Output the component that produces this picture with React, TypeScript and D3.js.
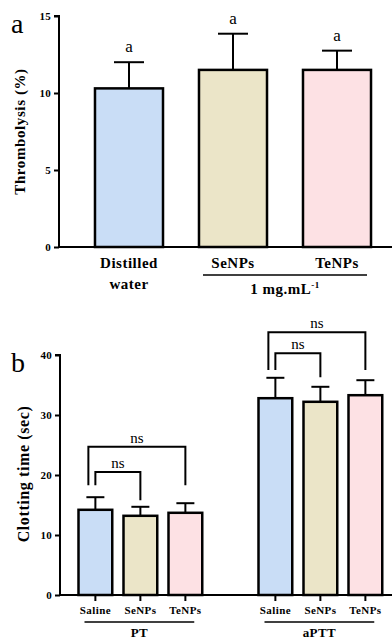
import { useEffect, useRef } from "react";
import * as d3 from "d3";

// panel a: thrombolysis
const thrombCategories = ["Distilled water", "SeNPs", "TeNPs"];
const thrombMeans = [10.3, 11.5, 11.5];
const thrombErrors = [1.7, 2.35, 1.25];
const thrombLetters = ["a", "a", "a"];
const thrombTicks = [0, 5, 10, 15];

// panel b: clotting time
const clotGroups = ["PT", "aPTT"];
const clotTreatments = ["Saline", "SeNPs", "TeNPs"];
const ptMeans = [14.2, 13.2, 13.7];
const ptErrors = [2.1, 1.5, 1.6];
const apttMeans = [32.8, 32.2, 33.3];
const apttErrors = [3.4, 2.5, 2.5];
const clotTicks = [0, 10, 20, 30, 40];

// significance brackets (value units), per group: [from, to, top, leftEnd, rightEnd]
const ptBrackets: [number, number, number, number, number][] = [
  [0, 2, 24.7, 18.3, 18.3],
  [0, 1, 20.5, 18.3, 15.8],
];
const apttBrackets: [number, number, number, number, number][] = [
  [0, 2, 43.8, 37.5, 37.5],
  [0, 1, 40.3, 37.5, 36.3],
];

const colors = ["#c9ddf6", "#ebe5c8", "#fde1e4"];
const FONT = "'Liberation Serif', 'Times New Roman', serif";

const App = () => {
  const svgRef = useRef<SVGSVGElement | null>(null);
  const width = 392;
  const height = 642;

  useEffect(() => {
    document.body.style.margin = "0";
    if (!svgRef.current) return;
    const svg = d3.select(svgRef.current);
    svg.selectAll("*").remove();
    svg.attr("font-family", FONT);

    // ---------- panel a ----------
    const ax0 = 59;
    const ya = d3.scaleLinear().domain([0, 15]).range([247, 16]);
    const xa = d3
      .scaleBand<string>()
      .domain(thrombCategories)
      .range([ax0, 407])
      .paddingInner(0.346)
      .paddingOuter(0.346);

    const ga = svg.append("g");
    ga.append("text")
      .attr("x", 11)
      .attr("y", 33)
      .attr("font-size", 28)
      .text("a");

    const yAxisA = ga
      .append("g")
      .attr("transform", `translate(${ax0},0)`)
      .call(d3.axisLeft(ya).tickValues(thrombTicks).tickSize(5).tickPadding(3));
    yAxisA.select(".domain").attr("stroke-width", 2).attr("d", `M-5,${ya(15)}H0V${ya(0)}`);
    yAxisA.selectAll(".tick line").attr("stroke-width", 2);
    yAxisA
      .selectAll(".tick text")
      .attr("font-family", FONT)
      .attr("font-weight", "bold")
      .attr("font-size", 11)
      .attr("letter-spacing", 0.3);

    ga.append("line")
      .attr("x1", ax0 - 1)
      .attr("x2", width)
      .attr("y1", ya(0))
      .attr("y2", ya(0))
      .attr("stroke", "#000")
      .attr("stroke-width", 2);

    ga.append("text")
      .attr("transform", `translate(25,${(ya(0) + ya(15)) / 2}) rotate(-90)`)
      .attr("text-anchor", "middle")
      .attr("font-weight", "bold")
      .attr("font-size", 15)
      .attr("letter-spacing", 0.6)
      .text("Thrombolysis (%)");

    thrombCategories.forEach((c, i) => {
      const x0 = xa(c)!;
      const bw = xa.bandwidth();
      const cx = x0 + bw / 2;
      const top = ya(thrombMeans[i]);
      const errTop = ya(thrombMeans[i] + thrombErrors[i]);
      ga.append("line")
        .attr("x1", cx).attr("x2", cx)
        .attr("y1", top).attr("y2", errTop)
        .attr("stroke", "#000").attr("stroke-width", 2);
      ga.append("line")
        .attr("x1", cx - 15).attr("x2", cx + 15)
        .attr("y1", errTop).attr("y2", errTop)
        .attr("stroke", "#000").attr("stroke-width", 2);
      ga.append("rect")
        .attr("x", x0)
        .attr("y", top)
        .attr("width", bw)
        .attr("height", ya(0) - top)
        .attr("fill", colors[i])
        .attr("stroke", "#000")
        .attr("stroke-width", 2.5);
      ga.append("text")
        .attr("x", cx)
        .attr("y", errTop - 10)
        .attr("text-anchor", "middle")
        .attr("font-size", 17)
        .text(thrombLetters[i]);
    });

    // category labels
    const labelA = (x: number, y: number, s: string) =>
      ga.append("text")
        .attr("x", x).attr("y", y)
        .attr("text-anchor", "middle")
        .attr("font-weight", "bold").attr("font-size", 15)
        .attr("letter-spacing", 0.5)
        .text(s);
    const c0 = xa(thrombCategories[0])! + xa.bandwidth() / 2;
    labelA(c0, 268, "Distilled");
    labelA(c0, 289, "water");
    thrombCategories.slice(1).forEach((c) => {
      labelA(xa(c)! + xa.bandwidth() / 2, 268, c);
    });
    const l1 = xa(thrombCategories[1])!;
    const l2 = xa(thrombCategories[2])! + xa.bandwidth();
    ga.append("line")
      .attr("x1", l1 + 4).attr("x2", l2 - 4)
      .attr("y1", 275).attr("y2", 275)
      .attr("stroke", "#000").attr("stroke-width", 1.5);
    const conc = ga
      .append("text")
      .attr("x", (l1 + l2) / 2)
      .attr("y", 294)
      .attr("text-anchor", "middle")
      .attr("font-weight", "bold")
      .attr("font-size", 15)
      .attr("letter-spacing", 0.5);
    conc.append("tspan").text("1 mg.mL");
    conc.append("tspan").attr("dy", -6).attr("font-size", 9).text("-1");

    // ---------- panel b ----------
    const bx0 = 60;
    const yb = d3.scaleLinear().domain([0, 40]).range([595, 355]);
    const slots = [
      ...clotTreatments.map((t) => `${clotGroups[0]}-${t}`),
      "gap",
      ...clotTreatments.map((t) => `${clotGroups[1]}-${t}`),
    ];
    const xb = d3
      .scaleBand<string>()
      .domain(slots)
      .range([78.5, 382.25])
      .paddingInner(0.25)
      .paddingOuter(0);
    const bwB = xb.bandwidth();
    const cxB = (g: string, t: string) => xb(`${g}-${t}`)! + bwB / 2;

    const gb = svg.append("g");
    gb.append("text")
      .attr("x", 11)
      .attr("y", 372)
      .attr("font-size", 28)
      .text("b");

    const yAxisB = gb
      .append("g")
      .attr("transform", `translate(${bx0},0)`)
      .call(d3.axisLeft(yb).tickValues(clotTicks).tickSize(5).tickPadding(3));
    yAxisB.select(".domain").attr("stroke-width", 2).attr("d", `M-5,${yb(40)}H0V${yb(0)}`);
    yAxisB.selectAll(".tick line").attr("stroke-width", 2);
    yAxisB
      .selectAll(".tick text")
      .attr("font-family", FONT)
      .attr("font-weight", "bold")
      .attr("font-size", 11)
      .attr("letter-spacing", 0.3);

    gb.append("line")
      .attr("x1", bx0 - 1).attr("x2", width)
      .attr("y1", yb(0)).attr("y2", yb(0))
      .attr("stroke", "#000").attr("stroke-width", 2);

    gb.append("text")
      .attr("transform", `translate(29,${(yb(0) + yb(40)) / 2 - 1}) rotate(-90)`)
      .attr("text-anchor", "middle")
      .attr("font-weight", "bold")
      .attr("font-size", 16)
      .attr("letter-spacing", 0.6)
      .text("Clotting time (sec)");

    const groupData = [
      { g: clotGroups[0], means: ptMeans, errs: ptErrors, brackets: ptBrackets },
      { g: clotGroups[1], means: apttMeans, errs: apttErrors, brackets: apttBrackets },
    ];

    groupData.forEach(({ g, means, errs, brackets }) => {
      clotTreatments.forEach((t, i) => {
        const x0 = xb(`${g}-${t}`)!;
        const cx = x0 + bwB / 2;
        const top = yb(means[i]);
        const errTop = yb(means[i] + errs[i]);
        gb.append("line")
          .attr("x1", cx).attr("x2", cx)
          .attr("y1", top).attr("y2", errTop)
          .attr("stroke", "#000").attr("stroke-width", 2);
        gb.append("line")
          .attr("x1", cx - 9).attr("x2", cx + 9)
          .attr("y1", errTop).attr("y2", errTop)
          .attr("stroke", "#000").attr("stroke-width", 2);
        gb.append("rect")
          .attr("x", x0).attr("y", top)
          .attr("width", bwB).attr("height", yb(0) - top)
          .attr("fill", colors[i])
          .attr("stroke", "#000").attr("stroke-width", 2.5);
        // x tick
        gb.append("line")
          .attr("x1", cx).attr("x2", cx)
          .attr("y1", yb(0)).attr("y2", yb(0) + 6)
          .attr("stroke", "#000").attr("stroke-width", 2);
        gb.append("text")
          .attr("x", cx).attr("y", 614)
          .attr("text-anchor", "middle")
          .attr("font-weight", "bold").attr("font-size", 11)
          .attr("letter-spacing", 0.4)
          .text(t);
      });

      // group underline + label
      const gl = xb(`${g}-${clotTreatments[0]}`)! + 6;
      const gr = xb(`${g}-${clotTreatments[2]}`)! + bwB - 8;
      gb.append("line")
        .attr("x1", gl).attr("x2", gr)
        .attr("y1", 622).attr("y2", 622)
        .attr("stroke", "#000").attr("stroke-width", 1.5);
      gb.append("text")
        .attr("x", (gl + gr) / 2).attr("y", 637)
        .attr("text-anchor", "middle")
        .attr("font-weight", "bold").attr("font-size", 13)
        .attr("letter-spacing", 0.4)
        .text(g);

      // significance brackets
      brackets.forEach(([from, to, topV, leftV, rightV]) => {
        const xl = cxB(g, clotTreatments[from]) - (to - from > 1 ? 7 : 0);
        const xr = cxB(g, clotTreatments[to]);
        const path = d3.path();
        path.moveTo(xl, yb(leftV));
        path.lineTo(xl, yb(topV));
        path.lineTo(xr, yb(topV));
        path.lineTo(xr, yb(rightV));
        gb.append("path")
          .attr("d", path.toString())
          .attr("fill", "none")
          .attr("stroke", "#000")
          .attr("stroke-width", 2);
        gb.append("text")
          .attr("x", (xl + xr) / 2)
          .attr("y", yb(topV) - 4)
          .attr("text-anchor", "middle")
          .attr("font-size", 15)
          .text("ns");
      });
    });
  }, []);

  return (
    <svg
      ref={svgRef}
      width={width}
      height={height}
      style={{ display: "block", background: "#fff" }}
    />
  );
};

export default App;
